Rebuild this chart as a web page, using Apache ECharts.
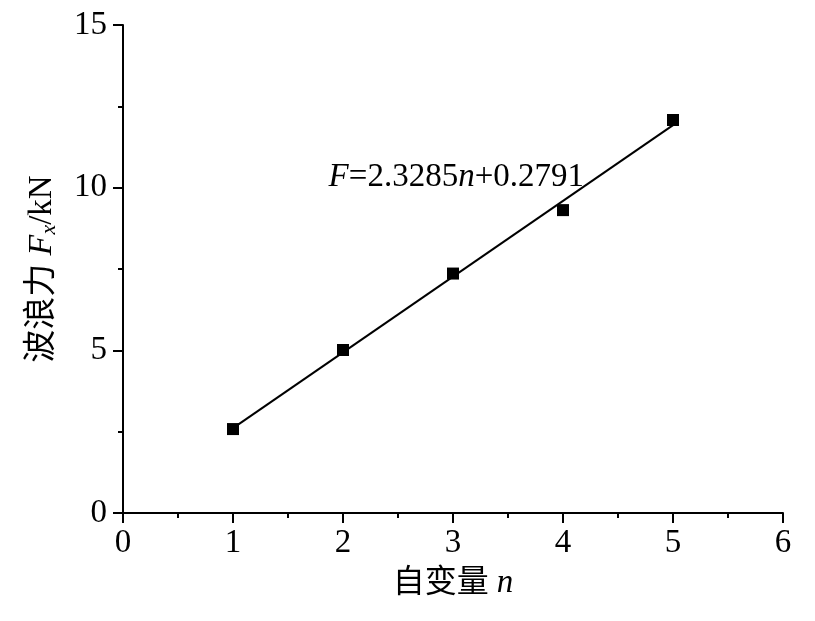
<!DOCTYPE html>
<html>
<head>
<meta charset="utf-8">
<script src="https://cdn.jsdelivr.net/npm/echarts@6/dist/echarts.min.js"></script>
<style>html,body{margin:0;padding:0;background:#fff;}#c{width:815px;height:621px;}</style>
</head>
<body>
<div id="c"></div>
<script>
const nValues = [1, 2, 3, 4, 5];
const forceValues = [2.58, 5.01, 7.36, 9.31, 12.08];
const fitSlope = 2.3285;
const fitIntercept = 0.2791;
const fitRange = [1, 5.05];
const xTicks = [0, 1, 2, 3, 4, 5, 6];
const yTicks = [0, 5, 10, 15];

const fitData = fitRange.map(n => [n, fitSlope * n + fitIntercept]);
const serif = '"Liberation Serif", "Times New Roman", "Noto Sans CJK SC", serif';

const chart = echarts.init(document.getElementById('c'), null, {renderer: 'canvas'});
chart.setOption({
  backgroundColor: '#fff',
  animation: false,
  grid: {left: 123, right: 32, top: 25, bottom: 108},
  xAxis: {
    type: 'value', min: xTicks[0], max: xTicks[xTicks.length - 1], interval: 1,
    name: '自变量 {i|n}',
    nameLocation: 'middle', nameGap: 54,
    nameTextStyle: {fontFamily: serif, fontSize: 32, color: '#000',
      rich: {i: {fontFamily: serif, fontStyle: 'italic', fontSize: 33, color: '#000'}}},
    axisLine: {onZero: false, lineStyle: {color: '#000', width: 2}},
    axisTick: {inside: false, length: 10, lineStyle: {color: '#000', width: 2}},
    minorTick: {show: true, splitNumber: 2, length: 5, lineStyle: {color: '#000', width: 2}},
    axisLabel: {fontFamily: serif, fontSize: 33, color: '#000', margin: 14},
    splitLine: {show: false}
  },
  yAxis: {
    type: 'value', min: yTicks[0], max: yTicks[yTicks.length - 1], interval: 5,
    name: '波浪力 {i|F}{sub|x}/kN',
    nameLocation: 'middle', nameGap: 63, nameRotate: 90,
    nameTextStyle: {fontFamily: serif, fontSize: 33, color: '#000',
      rich: {
        i: {fontFamily: serif, fontStyle: 'italic', fontSize: 34, color: '#000'},
        sub: {fontFamily: serif, fontStyle: 'italic', fontSize: 22, color: '#000', padding: [14, 0, 0, 0]}
      }},
    axisLine: {onZero: false, lineStyle: {color: '#000', width: 2}},
    axisTick: {inside: false, length: 10, lineStyle: {color: '#000', width: 2}},
    minorTick: {show: true, splitNumber: 2, length: 5, lineStyle: {color: '#000', width: 2}},
    axisLabel: {fontFamily: serif, fontSize: 33, color: '#000', margin: 16},
    splitLine: {show: false}
  },
  series: [
    {
      type: 'line', data: fitData, symbol: 'none', z: 2,
      lineStyle: {color: '#000', width: 2},
      markPoint: {
        symbol: 'rect', symbolSize: 0,
        data: [{coord: [3.03, 10.32], value: ''}],
        label: {show: true, position: 'inside',
          formatter: '{i|F}=2.3285{i|n}+0.2791',
          fontFamily: serif, fontSize: 33, color: '#000',
          rich: {i: {fontFamily: serif, fontStyle: 'italic', fontSize: 33, color: '#000'}}}
      }
    },
    {
      type: 'scatter', data: nValues.map((n, i) => [n, forceValues[i]]),
      symbol: 'rect', symbolSize: 12, z: 3,
      itemStyle: {color: '#000', opacity: 1}
    }
  ]
});
</script>
</body>
</html>
